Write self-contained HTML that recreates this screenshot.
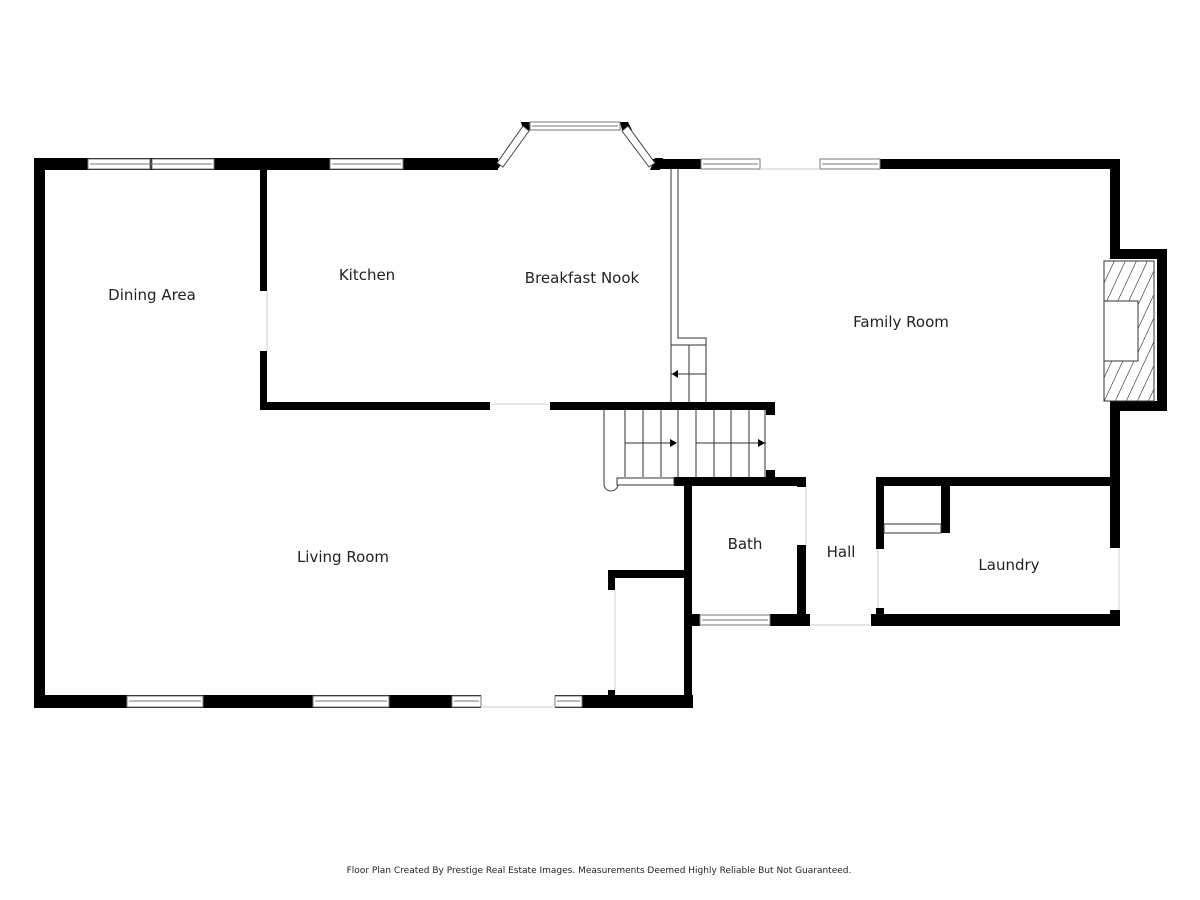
<!DOCTYPE html>
<html><head><meta charset="utf-8"><style>
html,body{margin:0;padding:0;background:#fff;}
svg{display:block}
text{font-family:"DejaVu Sans","Liberation Sans",sans-serif;fill:#222;}
</style></head><body>
<svg width="1200" height="900" viewBox="0 0 1200 900" xmlns="http://www.w3.org/2000/svg">
<defs>
<pattern id="hatch" width="10" height="10" patternUnits="userSpaceOnUse" patternTransform="rotate(25)">
<line x1="0" y1="0" x2="0" y2="10" stroke="#000" stroke-width="1"/>
</pattern>
</defs>
<g fill="#000">
<rect x="34" y="158" width="464" height="12"/>
<rect x="34" y="158" width="11" height="550"/>
<rect x="34" y="695" width="447" height="13"/>
<rect x="555" y="695" width="138" height="13"/>
<rect x="260" y="169" width="7" height="122"/>
<rect x="260" y="351" width="7" height="59"/>
<rect x="260" y="402" width="230" height="8"/>
<rect x="550" y="402" width="225" height="8"/>
<rect x="652" y="159" width="49" height="10"/>
<rect x="880" y="159" width="240" height="10"/>
<rect x="1110" y="159" width="10" height="95"/>
<rect x="1110" y="249" width="57" height="10"/>
<rect x="1157" y="249" width="10" height="162"/>
<rect x="1110" y="401" width="57" height="10"/>
<rect x="1110" y="401" width="10" height="84"/>
<rect x="1110" y="477" width="10" height="71"/>
<rect x="1110" y="610" width="10" height="16"/>
<rect x="876" y="477" width="244" height="9"/>
<rect x="876" y="477" width="8" height="72"/>
<rect x="876" y="608" width="8" height="18"/>
<rect x="871" y="614" width="249" height="12"/>
<rect x="941" y="485" width="9" height="48"/>
<rect x="674" y="477" width="132" height="9"/>
<rect x="797" y="477" width="9" height="10"/>
<rect x="797" y="545" width="9" height="81"/>
<rect x="684" y="477" width="8" height="231"/>
<rect x="692" y="614" width="8" height="12"/>
<rect x="770" y="614" width="40" height="12"/>
<rect x="766" y="402" width="9" height="13"/>
<rect x="766" y="470" width="9" height="10"/>
<rect x="608" y="570" width="84" height="8"/>
<rect x="608" y="570" width="7" height="20"/>
<rect x="608" y="690" width="7" height="10"/>
<polygon points="490,170 500,158 505,160 497,170"/>
<polygon points="521,122 530,122 530,130 523,130"/>
<polygon points="620,122 628,122 632,130 622,130"/>
<polygon points="650,170 655,158 663,158 660,170"/>
</g>
<g fill="#fff" stroke="#777" stroke-width="1">
<rect x="88" y="159" width="62" height="10"/><rect x="152" y="159" width="62" height="10"/>
<rect x="330" y="159" width="73" height="10"/>
<rect x="701" y="159" width="59" height="10"/>
<rect x="820" y="159" width="60" height="10"/>
<rect x="127" y="696" width="76" height="11"/>
<rect x="313" y="696" width="76" height="11"/>
<rect x="452" y="696" width="29" height="11"/>
<rect x="555" y="696" width="27" height="11"/>
<rect x="700" y="615" width="70" height="10"/>
<rect x="530" y="122" width="90" height="8"/>
</g>
<g stroke="#777" stroke-width="1">
<line x1="90" y1="164" x2="212" y2="164"/><line x1="332" y1="164" x2="401" y2="164"/>
<line x1="703" y1="164" x2="758" y2="164"/><line x1="822" y1="164" x2="878" y2="164"/>
<line x1="129" y1="701" x2="201" y2="701"/><line x1="315" y1="701" x2="387" y2="701"/>
<line x1="454" y1="701" x2="479" y2="701"/><line x1="557" y1="701" x2="580" y2="701"/>
<line x1="702" y1="620" x2="768" y2="620"/><line x1="532" y1="126" x2="618" y2="126"/>
<line x1="481" y1="707" x2="555" y2="707" stroke="#ccc"/>
<line x1="810" y1="625" x2="870" y2="625" stroke="#ccc"/>
<line x1="760" y1="169" x2="820" y2="169" stroke="#ccc"/>
</g>
<g fill="#fff" stroke="#444" stroke-width="1">
<polygon points="497,163 523,126 529,131 503,167"/>
<polygon points="628,126 655,163 649,167 622,131"/>
</g>
<g fill="none" stroke="#333" stroke-width="1">
<polyline points="671,169 671,402"/>
<polyline points="678,169 678,338 706,338 706,402"/>
<line x1="671" y1="345" x2="706" y2="345"/>
<line x1="689" y1="345" x2="689" y2="402"/>
<line x1="671" y1="374" x2="706" y2="374"/>
<line x1="625" y1="410" x2="625" y2="477"/>
<line x1="643" y1="410" x2="643" y2="477"/>
<line x1="661" y1="410" x2="661" y2="477"/>
<line x1="678" y1="410" x2="678" y2="477"/>
<line x1="696" y1="410" x2="696" y2="477"/>
<line x1="714" y1="410" x2="714" y2="477"/>
<line x1="731" y1="410" x2="731" y2="477"/>
<line x1="749" y1="410" x2="749" y2="477"/>
<line x1="765" y1="410" x2="765" y2="477"/>
<line x1="625" y1="443" x2="676" y2="443"/>
<line x1="696" y1="443" x2="766" y2="443"/>
<path d="M604,410 L604,484 A7,7 0 0 0 618,484"/>
<rect x="617" y="478" width="57" height="7" fill="#fff"/>
<rect x="884" y="524" width="57" height="9"/>
<rect x="1104" y="261" width="50" height="140" fill="url(#hatch)" stroke="#333"/>
<rect x="1104" y="301" width="34" height="60" fill="#fff"/>
<line x1="615" y1="590" x2="615" y2="690" stroke="#ccc"/>
<line x1="267" y1="291" x2="267" y2="351" stroke="#ccc"/>
<line x1="490" y1="404" x2="550" y2="404" stroke="#ccc"/>
<line x1="806" y1="487" x2="806" y2="545" stroke="#ccc"/>
<line x1="878" y1="549" x2="878" y2="608" stroke="#ccc"/>
<line x1="1119" y1="548" x2="1119" y2="610" stroke="#ccc"/>
</g>
<g fill="#000">
<polygon points="672,374 678,370 678,378"/>
<polygon points="677,443 670,439 670,447"/>
<polygon points="765,443 758,439 758,447"/>
</g>
<g font-size="15" text-anchor="middle">
<text x="152" y="300">Dining Area</text>
<text x="367" y="280">Kitchen</text>
<text x="582" y="283">Breakfast Nook</text>
<text x="901" y="327">Family Room</text>
<text x="343" y="562">Living Room</text>
<text x="745" y="549">Bath</text>
<text x="841" y="557">Hall</text>
<text x="1009" y="570">Laundry</text>
</g>
<text x="599" y="873" font-size="9" text-anchor="middle">Floor Plan Created By Prestige Real Estate Images. Measurements Deemed Highly Reliable But Not Guaranteed.</text>
</svg>
</body></html>
